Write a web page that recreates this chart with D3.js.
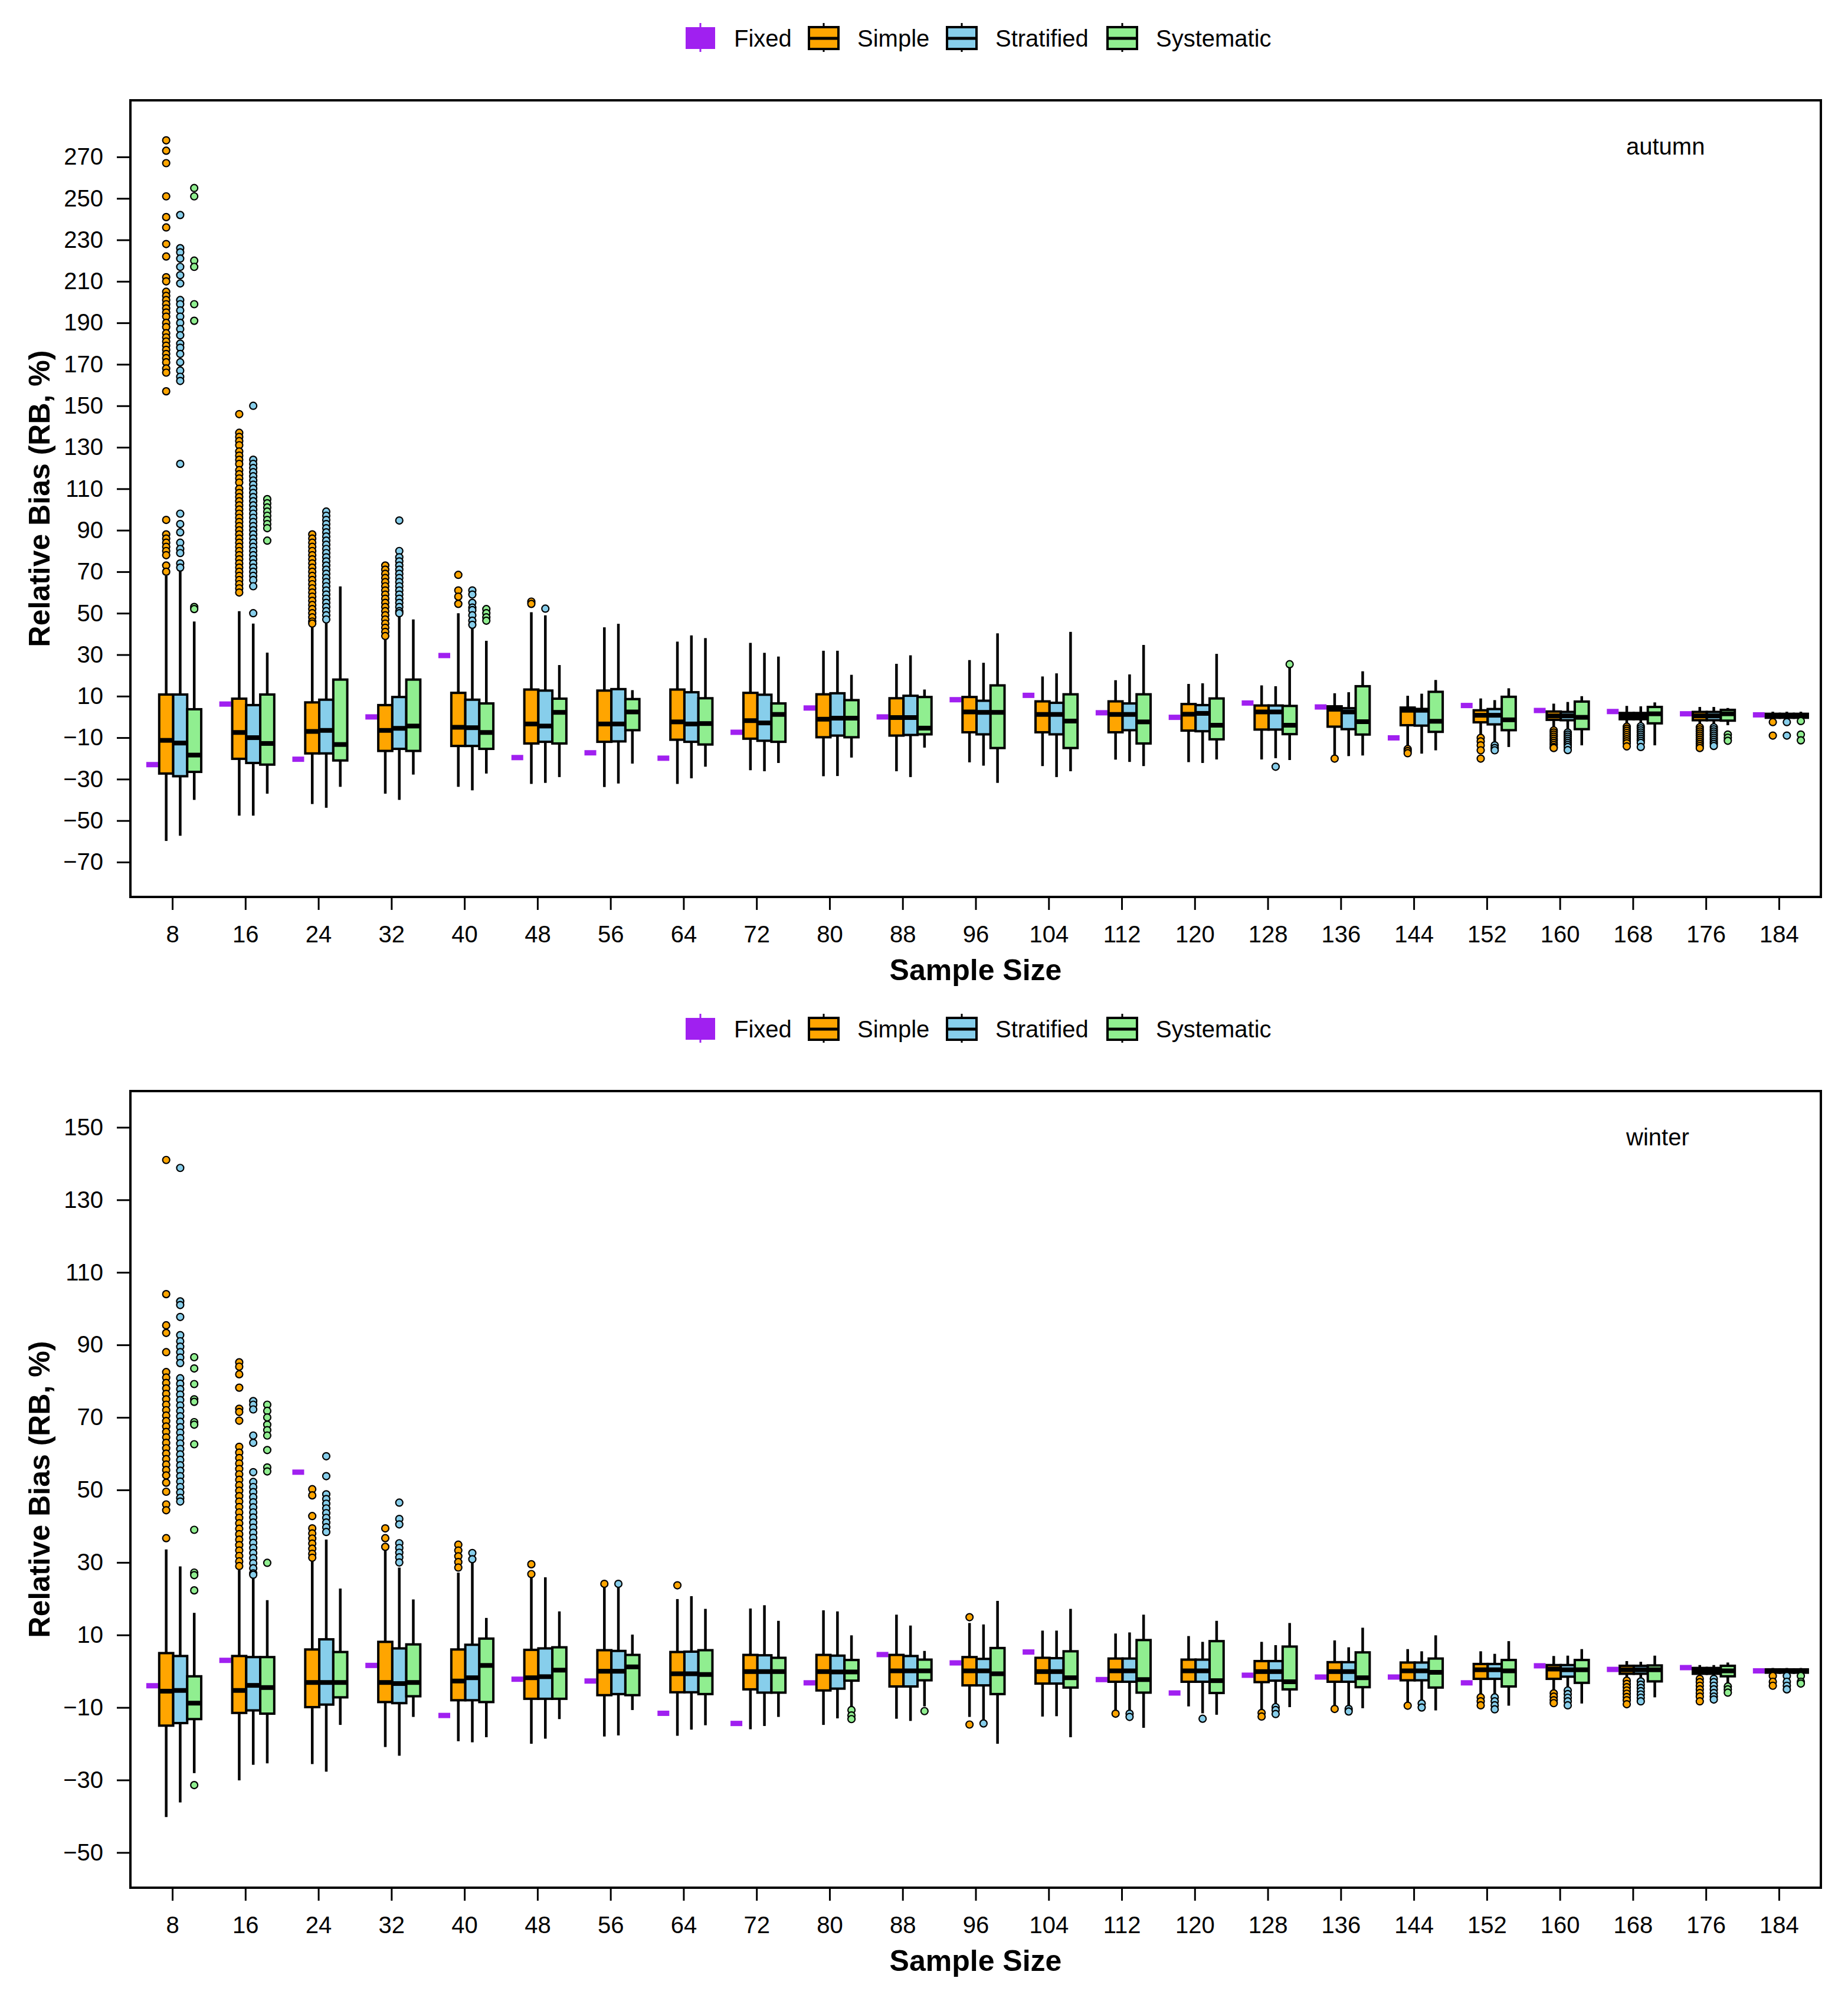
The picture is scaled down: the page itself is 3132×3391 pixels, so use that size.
<!DOCTYPE html>
<html>
<head>
<meta charset="utf-8">
<script src="https://cdn.jsdelivr.net/npm/d3@7"></script>
<style>
  body { margin: 0; background: #fff; }
  text { font-family: "Liberation Sans", Arial, sans-serif; }
</style>
</head>
<body>
<div id="chart"></div>
<script>
// Sample sizes (x categories) and sampling methods
const sampleSizes = [8, 16, 24, 32, 40, 48, 56, 64, 72, 80, 88, 96, 104, 112, 120, 128, 136, 144, 152, 160, 168, 176, 184];
const methods = ["Simple", "Stratified", "Systematic"];
const legendLabels = ["Fixed", "Simple", "Stratified", "Systematic"];
const autumnYTicks = [-70, -50, -30, -10, 10, 30, 50, 70, 90, 110, 130, 150, 170, 190, 210, 230, 250, 270];
const winterYTicks = [-50, -30, -10, 10, 30, 50, 70, 90, 110, 130, 150];

// ---------- autumn ----------
const autumnFixed = [-23, 6.2, -20.4, 0, 29.6, -19.6, -17.3, -19.9, -7.4, 4.3, 0, 8.3, 10.4, 2, -0.2, 6.7, 4.8, -10.1, 5.5, 3.1, 2.6, 1.5, 1];

// [lower whisker, Q1, median, Q3, upper whisker]
const autumnSimple = [
  [-59.8, -27.3, -11.3, 10.8, 68], [-47.6, -20.2, -7.5, 8.8, 51], [-42, -17.6, -7, 7, 44], [-37, -16.4, -6.5, 5.7, 38],
  [-33.7, -14, -5, 11.6, 50], [-32.3, -12.8, -3.4, 13.2, 50.5], [-33.8, -12, -3.4, 12.7, 43.2], [-32.3, -11, -2.4, 13.2, 36.3],
  [-25.7, -10.5, -1.8, 11.6, 35.7], [-28.6, -9.8, -1.1, 10.9, 31.9], [-26.2, -9, -0.3, 9, 25.6], [-21.9, -7.4, 2.4, 9.6, 27.4],
  [-23.7, -7.4, 1.2, 7.5, 19.5], [-20.6, -7.4, 1.2, 7.5, 17.7], [-21.8, -6.6, 1.3, 6.2, 15.9], [-20.5, -6.1, 2.4, 5.5, 15.2],
  [-18.4, -4.7, 3.7, 5.1, 11.4], [-14.6, -4, 3.2, 4.5, 10.2], [-9, -2.6, 0.8, 3.2, 8.9], [-5.6, -1.4, 0.5, 2.6, 6.4],
  [-3.7, -1.1, 0.5, 1.9, 5.3], [-3.5, -1.6, 0.5, 2.4, 4.8], [-1.5, -0.4, 0.5, 1.5, 2.5]
];
const autumnStratified = [
  [-57.3, -28.6, -12.6, 10.8, 70.5], [-47.6, -22.2, -10, 5.7, 45], [-43.8, -17.6, -6.5, 8.3, 46.4], [-40, -15.4, -5.5, 9.6, 49],
  [-35.4, -14, -5.2, 8.3, 43.3], [-31.8, -12, -4.4, 12.7, 49], [-32.1, -11.8, -3.4, 13.4, 44.9], [-29.6, -12, -3.4, 11.9, 39.3],
  [-26.2, -11.5, -2.9, 10.7, 30.9], [-28.5, -9, -0.6, 11.4, 31.9], [-29, -8.7, -0.3, 10.2, 29.7], [-23.5, -8.4, 2.2, 7.8, 26.1],
  [-29, -8.4, 1.2, 6.8, 21], [-21.7, -6.4, 1.2, 6.5, 20.5], [-22.2, -6.9, 1.7, 5.7, 16.2], [-19.9, -6.1, 2.4, 5.5, 14.8],
  [-18.9, -5.9, 2.4, 4.2, 11.9], [-17.7, -4.2, 3.2, 3.8, 11.2], [-12.3, -3.6, 0.8, 3.8, 8.1], [-6.6, -1.6, 0.5, 2.4, 7.2],
  [-3.7, -1.1, 0.5, 1.9, 5.1], [-3.5, -1.6, 0.5, 2.4, 4.8], [-1.5, -0.4, 0.5, 1.5, 2.5]
];
const autumnSystematic = [
  [-40, -26.5, -18.4, 3.7, 46], [-37, -23, -12.8, 10.8, 31], [-33.7, -21, -13.3, 18, 62.9], [-27.8, -16.4, -4.4, 18, 47],
  [-27.3, -15.4, -7.5, 6.5, 36.7], [-29, -12.8, 2.2, 8.8, 25], [-22.5, -6.4, 2.4, 8.6, 12.9], [-24, -13.3, -3.2, 9, 38],
  [-22.2, -12, 1.2, 6.5, 29.1], [-19.6, -9.8, -0.6, 8.1, 20.3], [-14.8, -8.4, -5.4, 9.6, 13.2], [-31.8, -15, 2.2, 15.2, 40.3],
  [-26.2, -15, -2, 10.9, 41], [-23.7, -12.8, -2.4, 10.9, 34.7], [-20.5, -10.8, -4, 8.9, 30.4], [-20.8, -8.3, -4, 5.3, 23.8],
  [-18.6, -8.5, -2.3, 14.8, 22], [-16.1, -7.2, -2.1, 12.1, 17.8], [-14.5, -6.4, -1.4, 9.7, 13.8], [-13.7, -5.9, -0.2, 7.4, 10],
  [-13.7, -3.1, 1.5, 4.8, 7], [-4, -1.8, 1.5, 3.4, 4.3], [-1.5, -0.4, 0.5, 1.5, 2.5]
];

// outliers per sample size
const autumnSimpleOut = [
  [278, 273, 267, 251, 241, 236, 228, 222, 212, 210, 205, 203, 201, 199, 197, 195, 193, 190, 188, 185, 183, 181, 179, 177, 175, 173, 171, 168, 166, 157, 95, 88, 86, 84, 82, 80, 78, 73, 70],
  [146, 137, 135, 133, 131, 128, 126, 124, 122, 119, 117, 115, 113, 110, 108, 106, 104, 102, 100, 98, 96, 94, 92, 90, 88, 86, 84, 82, 80, 78, 76, 74, 72, 70, 68, 66, 64, 62, 60],
  [88, 86, 84, 82, 80, 78, 76, 74, 72, 70, 68, 66, 64, 62, 60, 58, 56, 54, 52, 50, 48, 46, 45],
  [73, 71, 69, 67, 65, 63, 61, 59, 57, 55, 53, 51, 49, 47, 45, 43, 41, 39],
  [68.5, 61, 58, 54.5],
  [55.6, 54.5],
  [], [], [], [], [], [], [], [], [], [],
  [-20.1],
  [-15.5, -16.5, -17.5],
  [-10.1, -11.8, -13.7, -16.1, -20.1],
  [-6.5, -7.5, -8.5, -9.5, -10.5, -11.5, -12.5, -13.5, -14.5, -15],
  [-4.7, -5.7, -6.7, -7.7, -8.7, -9.7, -10.7, -11.7, -12.7, -14.2],
  [-5, -6, -7, -8, -9, -10, -11, -12, -13, -14, -15],
  [-2.5, -9]
];
const autumnStratifiedOut = [
  [242, 226, 224, 221, 217, 213, 209, 201, 199, 196, 193, 190, 187, 184, 180, 178, 175, 171, 167, 164, 162, 122, 98, 93, 89, 84, 81, 79, 74, 72],
  [150, 124, 122, 120, 118, 116, 114, 112, 110, 108, 106, 104, 102, 100, 98, 96, 94, 92, 90, 88, 86, 84, 82, 80, 78, 76, 74, 72, 70, 68, 66, 63, 50],
  [99, 97, 95, 93, 91, 89, 87, 85, 83, 81, 79, 77, 75, 73, 71, 69, 67, 65, 63, 61, 59, 57, 55, 53, 51, 49, 47],
  [94.7, 80, 77, 75, 73, 71, 69, 67, 65, 63, 61, 59, 57, 55, 53, 51, 50],
  [61, 59, 55, 52.7, 51.5, 49, 46.4, 44.4],
  [52.2],
  [], [], [], [], [], [], [], [], [],
  [-24],
  [],
  [],
  [-13.7, -15, -16.1],
  [-7.5, -8.5, -9.5, -10.5, -11.5, -12.5, -13.5, -14.5, -16],
  [-4.5, -5.5, -6.5, -7.5, -8.5, -9.5, -10.5, -11.5, -12.5, -14.5],
  [-5, -6, -7, -8, -9, -10, -11, -12, -13, -14],
  [-2.5, -9]
];
const autumnSystematicOut = [
  [255, 251, 220, 217, 199, 191, 53, 52],
  [105, 103, 101, 99, 97, 95, 93, 91, 85],
  [],
  [],
  [52, 50, 48, 46.4],
  [], [], [], [], [], [], [], [], [], [],
  [25.4],
  [], [], [], [], [],
  [-8.5, -10, -11.5],
  [-2, -8.5, -11.3]
];

// ---------- winter ----------
const winterFixed = [-4, 3, 54.9, 1.6, -12.2, -2.2, -2.7, -11.6, -14.4, -3.2, 4.6, 2.3, 5.3, -2.3, -6, -1.1, -1.6, -1.6, -3.2, 1.5, 0.5, 1, 0.1];

const winterSimple = [
  [-40.2, -15, -5.5, 5, 33.6], [-30.1, -11.5, -5.3, 4.2, 27.9], [-25.6, -9.9, -3.1, 6, 30.3], [-20.9, -8.5, -3.1, 8.1, 34],
  [-19.3, -8, -2.7, 6, 27.2], [-20, -7.6, -1.8, 5.9, 25.9], [-18, -6.6, 0, 5.8, 23.4], [-17.8, -5.8, -0.7, 5.3, 19.9],
  [-16, -5, -0.1, 4.5, 17.3], [-14.8, -5.3, -0.1, 4.5, 16.8], [-13.1, -4.2, 0.1, 4.5, 15.6], [-12.6, -3.9, 0.1, 3.9, 13.3],
  [-12.5, -3.4, -0.1, 3.7, 11.2], [-11, -2.9, 0.1, 3.5, 10.4], [-9.7, -2.9, 0.1, 3.2, 9.7], [-10.5, -3, -0.1, 2.8, 8.1],
  [-9.4, -2.9, -0.1, 2.5, 8.5], [-8.6, -2.5, 0.1, 2.4, 6.1], [-6.7, -2.1, 0.4, 2, 5.5], [-5.6, -2.1, 0.6, 1.7, 4.2],
  [-2.1, -0.7, 0.4, 1.5, 2.8], [-1.5, -0.7, 0.1, 0.9, 1.7], [-0.8, -0.4, 0.1, 0.5, 0.9]
];
const winterStratified = [
  [-36.2, -14.3, -5.3, 4.2, 28.9], [-25.8, -10.8, -3.9, 3.9, 25.9], [-27.7, -9.2, -3.1, 8.8, 36.3], [-23.3, -8.8, -3.4, 6.3, 28.6],
  [-19.6, -8, -1.8, 7.3, 30.6], [-18.6, -7.6, -1.5, 6.3, 25.9], [-17.7, -6.3, 0, 5.6, 23.4], [-16.1, -5.8, -0.7, 5.4, 20.7],
  [-15.1, -5.9, -0.1, 4.4, 18.2], [-13, -4.8, -0.2, 4.3, 16.5], [-13.7, -4.2, 0.1, 4.2, 12.6], [-13.7, -3.9, 0.1, 3.4, 12.9],
  [-12.4, -3.4, -0.1, 3.6, 11.2], [-11.3, -2.9, 0.1, 3.5, 10.7], [-11.6, -2.9, 0.1, 3.2, 8.1], [-9.1, -2.6, -0.1, 2.8, 7.2],
  [-9.7, -2.9, -0.1, 2.5, 6.6], [-8.3, -2.5, 0.1, 2.4, 5.5], [-6.4, -2.1, 0.4, 2, 4.8], [-4.8, -1.5, 0.4, 1.7, 4.3],
  [-2.3, -0.7, 0.4, 1.5, 2.6], [-1.5, -0.7, 0.1, 0.9, 1.7], [-0.8, -0.4, 0.1, 0.5, 0.9]
];
const winterSystematic = [
  [-28.1, -13.2, -8.8, -1.4, 16.1], [-25.4, -11.7, -4.5, 3.9, 19.6], [-14.8, -7.2, -3.1, 5.3, 22.8], [-12.6, -6.9, -3.1, 7.4, 19.8],
  [-18.2, -8.5, 1.6, 9, 14.7], [-13.2, -7.6, 0.3, 6.6, 16.5], [-10.7, -6.6, 1.2, 4.5, 10.1], [-14.9, -6.3, -0.9, 5.8, 17.2],
  [-12.6, -5.9, -0.1, 3.7, 13.9], [-10.2, -2.6, -0.2, 3.1, 9.9], [-9.7, -2.5, 0.1, 3.2, 5.6], [-20, -6.3, -0.7, 6.4, 19.4],
  [-18.2, -4.5, -1.8, 5.5, 17.2], [-15.6, -5.9, -2.3, 8.6, 15.6], [-12, -6, -2.6, 8.3, 13.9], [-9.9, -5, -2.9, 6.8, 13.3],
  [-10.2, -4.4, -1.8, 5.2, 12], [-10.8, -4.5, -0.3, 3.5, 9.9], [-9.5, -4.2, 0.1, 3.1, 8.3], [-8.9, -3.2, 0.4, 3.1, 6.1],
  [-7.2, -2.8, 0.4, 1.6, 4.3], [-3.4, -1.4, 0.1, 1.5, 2.4], [-0.8, -0.4, 0.1, 0.5, 0.9]
];

const winterSimpleOut = [
  [141, 104, 95.4, 93.3, 88, 82.5, 81, 79.5, 78, 76.5, 75, 73.5, 72, 70.5, 69, 67.5, 66, 64.5, 63, 61.5, 60, 58.5, 57, 55.5, 54, 52, 49.5, 46, 44.4, 36.7],
  [85.2, 84, 81.9, 78.2, 72.4, 71.5, 69.1, 61.9, 60.3, 58.8, 57.3, 55.8, 54.3, 52.8, 51.3, 49.8, 48.3, 46.8, 45.3, 43.8, 42.3, 40.8, 39.3, 37.8, 36.3, 34.8, 33.3, 31.8, 30.3, 29],
  [50.2, 48.5, 42.8, 39.4, 38, 36.6, 35.2, 33.8, 32.4, 31.3],
  [39.4, 36.7, 34.3],
  [34.9, 33.3, 31.7, 30.1, 28.6],
  [29.5, 26.8],
  [24.1],
  [23.7],
  [], [], [],
  [14.9, -14.7],
  [],
  [-11.7],
  [],
  [-11.5, -12.5],
  [-10.4],
  [-9.5],
  [-7.2, -8.3, -9.4],
  [-6.1, -7, -8, -8.8],
  [-2.6, -3.5, -4.4, -5.3, -6.2, -7.1, -8, -9.1],
  [-2.1, -3, -4, -5, -6, -7, -8.3],
  [-1.3, -2.9, -4]
];
const winterStratifiedOut = [
  [138.8, 102, 101, 97.7, 92.7, 91, 89.5, 88, 86.5, 85, 80.8, 79.3, 77.8, 76.3, 74.8, 73.3, 71.8, 70.3, 68.8, 67.3, 65.8, 64.3, 62.8, 61.3, 59.8, 58.3, 56.8, 55.3, 53.8, 52.3, 50.8, 49.3, 47.8, 46.8],
  [74.5, 73.5, 72.2, 65, 63, 54.9, 52.2, 50.8, 49.4, 48, 46.6, 45.2, 43.8, 42.4, 41, 39.6, 38.2, 36.8, 35.4, 34, 32.6, 31.2, 29.8, 28.4, 27, 26.6],
  [59.3, 53.8, 48.8, 47.5, 46.2, 44.9, 43.6, 42.3, 41, 39.7, 38.4],
  [46.5, 42, 40.5, 35.3, 34, 32.7, 31.4, 30],
  [32.6, 30.9],
  [],
  [24.1],
  [], [], [], [],
  [-14.4],
  [],
  [-11.7, -12.6],
  [-13.1],
  [-9.9, -10.7, -11.8],
  [-10.4, -11.1],
  [-8.9, -10],
  [-7.2, -8.3, -9.4, -10.5],
  [-5.3, -6.3, -7.3, -8.3, -9.4],
  [-2.8, -3.7, -4.6, -5.5, -6.4, -7.3, -8.3],
  [-2.1, -3, -4, -5, -6, -7, -7.8],
  [-1.3, -2.9, -4, -5]
];
const winterSystematicOut = [
  [86.6, 83.5, 79.2, 75, 74.3, 68.7, 68, 62.6, 39, 27.2, 26.5, 22.3, -31.4],
  [73.5, 71.8, 70, 68, 66.5, 65, 61, 56.2, 55.1, 29.9],
  [], [], [], [], [], [], [],
  [-10.7, -12.2, -13.2],
  [-11],
  [], [], [], [], [], [], [], [], [], [],
  [-4.2, -5, -5.9],
  [-1.3, -2.9, -3.4]
];

// ---------- layout ----------
const width = 3132;
const height = 3391;
const left = 221;
const right = 3086;

const color = d3.scaleOrdinal(legendLabels, ["#A020F0", "#FFA500", "#87CEEB", "#90EE90"]);

const x = d3.scalePoint().domain(sampleSizes).range([left, right]).padding(0.574);
const sub = d3.scaleBand().domain(legendLabels).range([-46, 49]);
const bw = sub.bandwidth();

const svg = d3.select("#chart")
  .append("svg")
  .attr("width", width)
  .attr("height", height)
  .style("background", "#fff");

const panels = [
  {
    label: "autumn", top: 170, bottom: 1520, domain: [-86.8, 297.3], ticks: autumnYTicks,
    fixed: autumnFixed,
    boxes: {Simple: autumnSimple, Stratified: autumnStratified, Systematic: autumnSystematic},
    outliers: {Simple: autumnSimpleOut, Stratified: autumnStratifiedOut, Systematic: autumnSystematicOut}
  },
  {
    label: "winter", top: 1849, bottom: 3199, domain: [-59.7, 160], ticks: winterYTicks,
    fixed: winterFixed,
    boxes: {Simple: winterSimple, Stratified: winterStratified, Systematic: winterSystematic},
    outliers: {Simple: winterSimpleOut, Stratified: winterStratifiedOut, Systematic: winterSystematicOut}
  }
];

function drawLegend(cy) {
  const xs = [1162, 1371, 1605, 1877];
  const g = svg.append("g").attr("class", "legend");
  legendLabels.forEach((name, i) => {
    const x0 = xs[i];
    const isFixed = name === "Fixed";
    g.append("line")
      .attr("x1", x0 + 25).attr("x2", x0 + 25)
      .attr("y1", cy - 26).attr("y2", cy + 23)
      .attr("stroke", isFixed ? color(name) : "#000")
      .attr("stroke-width", 3);
    g.append("rect")
      .attr("x", x0).attr("y", cy - 19)
      .attr("width", 50).attr("height", 37)
      .attr("fill", color(name))
      .attr("stroke", isFixed ? "none" : "#000")
      .attr("stroke-width", 4);
    if (!isFixed) {
      g.append("line")
        .attr("x1", x0).attr("x2", x0 + 50)
        .attr("y1", cy).attr("y2", cy)
        .attr("stroke", "#000").attr("stroke-width", 5);
    }
    g.append("text")
      .attr("x", x0 + 82).attr("y", cy + 14)
      .attr("font-size", 40)
      .text(name);
  });
}

function drawPanel(p) {
  const y = d3.scaleLinear().domain(p.domain).range([p.bottom, p.top]);
  const g = svg.append("g").attr("class", "panel-" + p.label);

  drawLegend(p.top - 105);

  // axes
  const xAxis = g.append("g")
    .attr("transform", `translate(0,${p.bottom})`)
    .call(d3.axisBottom(x).tickSize(22).tickPadding(27));
  const yAxis = g.append("g")
    .attr("transform", `translate(${left},0)`)
    .call(d3.axisLeft(y).tickValues(p.ticks).tickSize(23).tickPadding(23));
  [xAxis, yAxis].forEach(a => {
    a.select(".domain").remove();
    a.attr("font-size", 40).attr("font-family", "\"Liberation Sans\", Arial, sans-serif");
    a.selectAll(".tick line").attr("stroke", "#000").attr("stroke-width", 3);
    a.selectAll(".tick text").attr("fill", "#000");
  });

  // frame
  g.append("rect")
    .attr("x", left).attr("y", p.top)
    .attr("width", right - left).attr("height", p.bottom - p.top)
    .attr("fill", "none").attr("stroke", "#000").attr("stroke-width", 4);

  // fixed design: short purple dash
  g.selectAll("rect.fixed")
    .data(p.fixed.map((v, i) => ({size: sampleSizes[i], v})))
    .join("rect")
    .attr("class", "fixed")
    .attr("x", d => x(d.size) + sub("Fixed") + bw / 2 - 10)
    .attr("y", d => y(d.v) - 4.5)
    .attr("width", 20).attr("height", 9)
    .attr("fill", color("Fixed"));

  // boxplots
  methods.forEach(m => {
    const data = p.boxes[m].map((s, i) => ({size: sampleSizes[i], s}));
    const bx = g.append("g").attr("class", "box-" + m);
    const cx = d => x(d.size) + sub(m) + bw / 2;

    bx.selectAll("line.whisker-lo")
      .data(data).join("line")
      .attr("class", "whisker-lo")
      .attr("x1", cx).attr("x2", cx)
      .attr("y1", d => y(d.s[0])).attr("y2", d => y(d.s[1]))
      .attr("stroke", "#000").attr("stroke-width", 4.5);
    bx.selectAll("line.whisker-hi")
      .data(data).join("line")
      .attr("class", "whisker-hi")
      .attr("x1", cx).attr("x2", cx)
      .attr("y1", d => y(d.s[4])).attr("y2", d => y(d.s[3]))
      .attr("stroke", "#000").attr("stroke-width", 4.5);
    bx.selectAll("rect")
      .data(data).join("rect")
      .attr("x", d => x(d.size) + sub(m))
      .attr("y", d => y(d.s[3]))
      .attr("width", bw)
      .attr("height", d => y(d.s[1]) - y(d.s[3]))
      .attr("fill", color(m))
      .attr("stroke", "#000").attr("stroke-width", 4);
    bx.selectAll("line.median")
      .data(data).join("line")
      .attr("class", "median")
      .attr("x1", d => x(d.size) + sub(m))
      .attr("x2", d => x(d.size) + sub(m) + bw)
      .attr("y1", d => y(d.s[2])).attr("y2", d => y(d.s[2]))
      .attr("stroke", "#000").attr("stroke-width", 8);
  });

  // outliers
  methods.forEach(m => {
    const pts = p.outliers[m].flatMap((arr, i) => arr.map(v => ({size: sampleSizes[i], v})));
    g.append("g").attr("class", "out-" + m)
      .selectAll("circle")
      .data(pts).join("circle")
      .attr("cx", d => x(d.size) + sub(m) + bw / 2)
      .attr("cy", d => y(d.v))
      .attr("r", 6)
      .attr("fill", color(m))
      .attr("stroke", "#000").attr("stroke-width", 2.2);
  });

  // labels
  g.append("text")
    .attr("x", 2756).attr("y", p.top + 92)
    .attr("font-size", 40)
    .text(p.label);

  g.append("text")
    .attr("transform", `translate(84,${(p.top + p.bottom) / 2}) rotate(-90)`)
    .attr("text-anchor", "middle")
    .attr("font-size", 50).attr("font-weight", "bold")
    .text("Relative Bias (RB, %)");

  g.append("text")
    .attr("x", (left + right) / 2).attr("y", p.bottom + 141)
    .attr("text-anchor", "middle")
    .attr("font-size", 50).attr("font-weight", "bold")
    .text("Sample Size");
}

panels.forEach(drawPanel);
</script>
</body>
</html>
